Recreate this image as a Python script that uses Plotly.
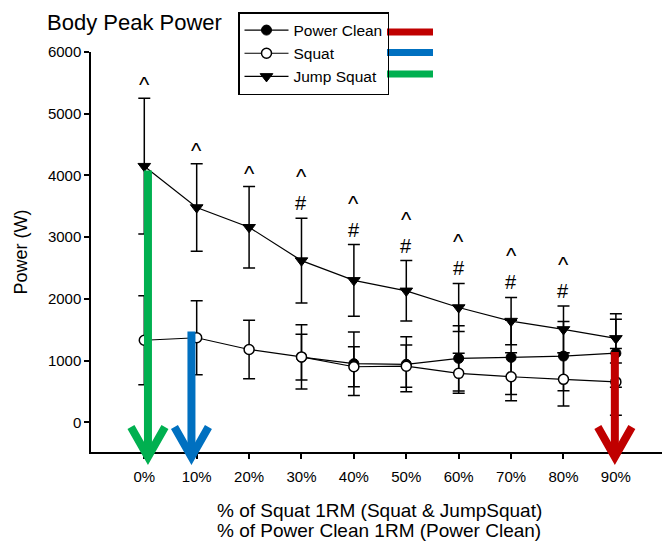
import plotly.graph_objects as go

# ---------------- data ----------------
pct = [0, 10, 20, 30, 40, 50, 60, 70, 80, 90]
pct_labels = [f"{p}%" for p in pct]

squat = [1330, 1370, 1180, 1060, 900, 910, 793, 738, 696, 655]
squat_err = [720, 600, 475, 520, 323, 342, 324, 388, 432, 540]

pc_pct = [30, 40, 50, 60, 70, 80, 90]
power_clean = [1055, 950, 940, 1036, 1052, 1073, 1120]
power_clean_err = [370, 515, 445, 530, 600, 560, 550]

jump_squat = [4150, 3480, 3160, 2620, 2300, 2130, 1860, 1640, 1505, 1360]
jump_squat_err = [1100, 710, 660, 685, 580, 490, 390, 384, 378, 400]

caret_sig = [1, 1, 1, 1, 1, 1, 1, 1, 1, 0]
hash_sig = [0, 0, 0, 1, 1, 1, 1, 1, 1, 0]

y_ticks = [0, 1000, 2000, 3000, 4000, 5000, 6000]

FONT = "Liberation Sans, Arial, sans-serif"
X_RANGE = [-10.17, 98.8]
Y_RANGE = [-481, 6000]

fig = go.Figure()

def err(a):
    return dict(type="data", array=a, visible=True, color="black", thickness=1.5, width=6)

fig.add_trace(go.Scatter(
    x=pc_pct, y=power_clean, name="Power Clean", mode="lines+markers",
    line=dict(color="black", width=1.2),
    marker=dict(symbol="circle", size=10, color="black", line=dict(color="black", width=1)),
    error_y=err(power_clean_err)))
fig.add_trace(go.Scatter(
    x=pct, y=squat, name="Squat", mode="lines+markers",
    line=dict(color="black", width=1.2),
    marker=dict(symbol="circle", size=10, color="white", line=dict(color="black", width=1.5)),
    error_y=err(squat_err)))
fig.add_trace(go.Scatter(
    x=pct, y=jump_squat, name="Jump Squat", mode="lines+markers",
    line=dict(color="black", width=1.2),
    marker=dict(symbol="triangle-down", size=11, color="black", line=dict(color="black", width=1)),
    error_y=err(jump_squat_err)))

# significance symbols
ann = []
for x, v, e, c, h in zip(pct, jump_squat, jump_squat_err, caret_sig, hash_sig):
    top = v + e
    if h:
        ann.append(dict(x=x, y=top, xref="x", yref="y", text="#", showarrow=False,
                        yanchor="bottom", yshift=2,
                        font=dict(family=FONT, size=20, color="black")))
    if c:
        ann.append(dict(x=x, y=top, xref="x", yref="y", text="^", showarrow=False,
                        yanchor="bottom", yshift=(27 if h else -1),
                        font=dict(family=FONT, size=22, color="black")))

# titles
ann.append(dict(x=-0.0806, y=1.075, xref="paper", yref="paper", xanchor="left", yanchor="middle",
                text="Body Peak Power", showarrow=False, font=dict(family=FONT, size=22, color="black")))
ann.append(dict(x=0.505, y=-0.145, xref="paper", yref="paper", xanchor="center", yanchor="middle",
                text="% of Squat 1RM (Squat & JumpSquat)", showarrow=False,
                font=dict(family=FONT, size=19, color="black")))
ann.append(dict(x=0.505, y=-0.195, xref="paper", yref="paper", xanchor="center", yanchor="middle",
                text="% of Power Clean 1RM (Power Clean)", showarrow=False,
                font=dict(family=FONT, size=19, color="black")))

# --------- coloured overlay arrows and legend bars ---------
PW, PH = 571.0, 400.0

def xp(x):
    return (x - X_RANGE[0]) / (X_RANGE[1] - X_RANGE[0])

def yp(y):
    return (y - Y_RANGE[0]) / (Y_RANGE[1] - Y_RANGE[0])

shapes = []
arrow_specs = [  # colour, x, start value, x offset (pct units)
    ("#00B050", pct[0], jump_squat[0] - 70, 0.7),
    ("#0070C0", pct[1], squat[1] + 100, -1.0),
    ("#C00000", pc_pct[-1], power_clean[-1] + 20, -0.2),
]
tip_y = -5 / PH
for col, x, v, off in arrow_specs:
    cx = xp(x + off)
    shapes.append(dict(type="line", xref="paper", yref="paper", x0=cx, x1=cx,
                       y0=yp(v), y1=tip_y + 6 / PH, line=dict(color=col, width=8), layer="above"))
    dx, dy = 17 / PW, 30 / PH
    path = f"M {cx-dx} {tip_y+dy} L {cx} {tip_y} L {cx+dx} {tip_y+dy}"
    shapes.append(dict(type="path", xref="paper", yref="paper", path=path,
                       line=dict(color=col, width=8), layer="above"))

legend_bars = [("#C00000", 32), ("#0070C0", 52.5), ("#00B050", 74)]
for col, py in legend_bars:
    yy = (452 - py) / PH
    shapes.append(dict(type="line", xref="paper", yref="paper",
                       x0=(387 - 91) / PW, x1=(433 - 91) / PW, y0=yy, y1=yy,
                       line=dict(color=col, width=7)))

fig.update_layout(
    width=672, height=549,
    margin=dict(l=91, r=10, t=52, b=97),
    paper_bgcolor="white", plot_bgcolor="white",
    font=dict(family=FONT, size=15, color="black"),
    showlegend=True,
    legend=dict(x=(238 - 91) / PW, y=(452 - 12) / PH, xanchor="left", yanchor="top",
                bordercolor="black", borderwidth=1.5, bgcolor="rgba(0,0,0,0)",
                font=dict(family=FONT, size=15.5, color="black"),
                tracegroupgap=0, itemwidth=44),
    annotations=ann,
    shapes=shapes,
    xaxis=dict(range=X_RANGE, tickvals=pct, ticktext=pct_labels, showgrid=False, zeroline=False,
               showline=True, linecolor="black", linewidth=1.5, ticks="outside", ticklen=5,
               tickcolor="black", tickwidth=1.5, tickfont=dict(size=15), ticklabelstandoff=5),
    yaxis=dict(range=Y_RANGE, tickvals=y_ticks, showgrid=False, zeroline=False,
               showline=True, linecolor="black", linewidth=1.5, ticks="outside", ticklen=5,
               tickcolor="black", tickwidth=1.5, tickfont=dict(size=15),
               title=dict(text="Power (W)", font=dict(size=18), standoff=16)),
)

fig.write_html("out.html")
